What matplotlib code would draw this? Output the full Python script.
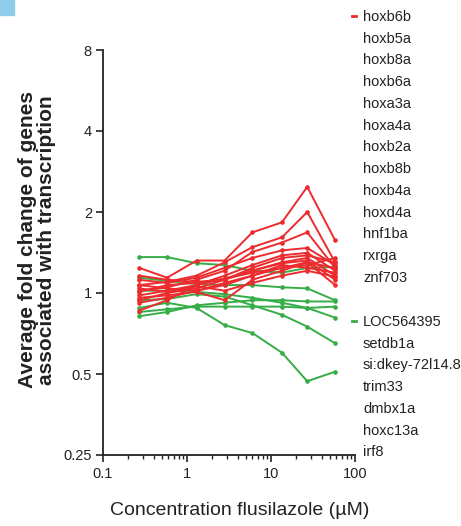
import numpy as np
import matplotlib
matplotlib.use("Agg")
import matplotlib.pyplot as plt
from matplotlib.patches import Rectangle
from matplotlib.ticker import LogLocator, NullFormatter, NullLocator

plt.rcParams['font.family'] = ['Liberation Sans', 'DejaVu Sans']

# concentrations (uM)
conc = [0.27, 0.58, 1.3, 2.8, 6.0, 13.5, 27, 58]

# up-regulated genes (red)
up_genes = ["hoxb6b", "hoxb5a", "hoxb8a", "hoxb6a", "hoxa3a", "hoxa4a", "hoxb2a",
            "hoxb8b", "hoxb4a", "hoxd4a", "hnf1ba", "rxrga", "znf703"]
up_values = [
    [1.24, 1.14, 1.32, 1.32, 1.68, 1.83, 2.48, 1.57],
    [1.07, 1.10, 1.16, 1.30, 1.48, 1.61, 2.00, 1.30],
    [1.02, 1.05, 1.12, 1.21, 1.42, 1.54, 1.68, 1.24],
    [1.12, 1.09, 1.14, 1.24, 1.35, 1.44, 1.47, 1.27],
    [0.98, 1.02, 1.07, 1.16, 1.27, 1.38, 1.41, 1.21],
    [0.94, 1.00, 1.04, 1.12, 1.24, 1.35, 1.38, 1.30],
    [1.16, 1.12, 1.10, 1.12, 1.21, 1.30, 1.35, 1.16],
    [1.01, 1.07, 1.09, 1.13, 1.21, 1.29, 1.32, 1.12],
    [0.92, 0.96, 1.02, 1.09, 1.16, 1.24, 1.30, 1.07],
    [1.07, 1.04, 1.02, 1.07, 1.16, 1.27, 1.24, 1.19],
    [0.96, 0.98, 1.01, 0.94, 1.12, 1.21, 1.30, 1.24],
    [0.86, 0.94, 1.07, 1.13, 1.19, 1.24, 1.27, 1.35],
    [1.04, 1.01, 1.06, 1.02, 1.09, 1.16, 1.21, 1.15],
]

# down-regulated genes (green)
down_genes = ["LOC564395", "setdb1a", "si:dkey-72l14.8", "trim33", "dmbx1a",
              "hoxc13a", "irf8"]
down_values = [
    [1.36, 1.36, 1.29, 1.27, 1.21, 1.19, 1.24, 1.25],
    [1.14, 1.11, 1.08, 1.07, 1.07, 1.05, 1.04, 0.94],
    [1.02, 1.02, 1.01, 0.99, 0.96, 0.92, 0.88, 0.81],
    [0.85, 0.87, 0.89, 0.89, 0.89, 0.89, 0.88, 0.89],
    [0.94, 0.95, 0.99, 0.97, 0.90, 0.83, 0.75, 0.65],
    [0.88, 0.92, 0.88, 0.76, 0.71, 0.60, 0.47, 0.51],
    [0.82, 0.85, 0.90, 0.92, 0.94, 0.94, 0.93, 0.93],
]

y_ticks = [0.25, 0.5, 1, 2, 4, 8]
y_ticklabels = ["0.25", "0.5", "1", "2", "4", "8"]
x_ticks = [0.1, 1, 10, 100]
x_ticklabels = ["0.1", "1", "10", "100"]

red = '#ec2b2e'
green = '#36ad46'
ink = '#222222'

fig = plt.figure(figsize=(4.61, 5.26), dpi=100)
ax = fig.add_axes([103/461, 1 - 455/526, 252/461, 405/526])

up_lines = []
for name, vals in zip(up_genes, up_values):
    l, = ax.plot(conc, vals, color=red, lw=1.4, marker='o', ms=2.3, label=name, zorder=3)
    up_lines.append(l)
down_lines = []
for name, vals in zip(down_genes, down_values):
    l, = ax.plot(conc, vals, color=green, lw=1.4, marker='o', ms=2.3, label=name, zorder=2)
    down_lines.append(l)

ax.set_xscale('log')
ax.set_yscale('log', base=2)
ax.set_xlim(0.1, 100)
ax.set_ylim(0.25, 8)
ax.set_xticks(x_ticks)
ax.set_xticklabels(x_ticklabels)
ax.xaxis.set_minor_locator(LogLocator(base=10, subs=np.arange(2, 10)))
ax.xaxis.set_minor_formatter(NullFormatter())
ax.set_yticks(y_ticks)
ax.set_yticklabels(y_ticklabels)
ax.yaxis.set_minor_locator(NullLocator())

for s in ['top', 'right']:
    ax.spines[s].set_visible(False)
for s in ['left', 'bottom']:
    ax.spines[s].set_linewidth(1.3)
    ax.spines[s].set_color(ink)
ax.tick_params(which='major', direction='out', length=5, width=1.2, labelsize=10.5,
               colors=ink)
ax.tick_params(which='minor', direction='out', length=3, width=1.0, colors=ink)
ax.tick_params(axis='x', pad=4)
ax.tick_params(axis='y', pad=3)

ax.set_xlabel("Concentration flusilazole (µM)", fontsize=14, color=ink, va='center')
ax.xaxis.set_label_coords(0.544, -0.136)
fig.text(37/461, 1 - 240/526, "Average fold change of genes\nassociated with transcription",
         rotation=90, ha='center', va='center', multialignment='center',
         fontsize=15, fontweight='bold', linespacing=1.0, color=ink)

leg_kw = dict(loc='upper left', frameon=False, fontsize=10.5, handlelength=0.3,
              handletextpad=0.45, labelspacing=0.53, borderpad=0, borderaxespad=0,
              labelcolor=ink)
leg1 = fig.legend(handles=up_lines, bbox_to_anchor=(352/461, 1 - 10/526), **leg_kw)
leg2 = fig.legend(handles=down_lines, bbox_to_anchor=(352/461, 1 - 315/526), **leg_kw)
for leg in (leg1, leg2):
    for i, h in enumerate(leg.legend_handles):
        h.set_marker('')
        h.set_linewidth(2)
        if i > 0:
            h.set_visible(False)

fig.patches.append(Rectangle((0, 1 - 15/526), 14/461, 15/526, transform=fig.transFigure,
                             color='#8dcde9', zorder=0))

fig.savefig("out.png", dpi=100)
